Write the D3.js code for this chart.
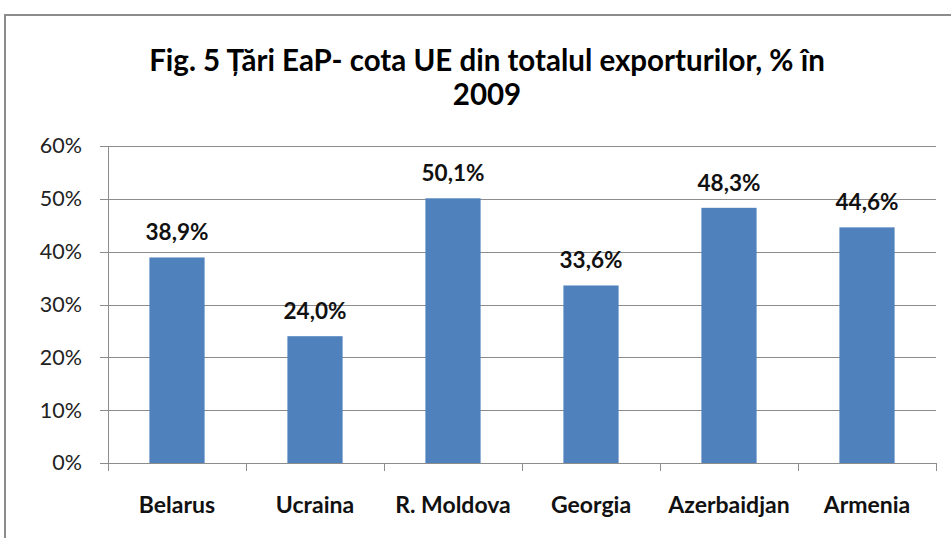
<!DOCTYPE html>
<html>
<head>
<meta charset="utf-8">
<script src="https://cdn.jsdelivr.net/npm/d3@7"></script>
<style>
  html, body { margin: 0; padding: 0; background: #fff; }
  svg { display: block; }
</style>
</head>
<body>
<svg id="chart" width="951" height="538"></svg>
<script>
const countries = ['Belarus', 'Ucraina', 'R. Moldova', 'Georgia', 'Azerbaidjan', 'Armenia'];
const euShare = [38.9, 24.0, 50.1, 33.6, 48.3, 44.6];
const yTicks = [0, 10, 20, 30, 40, 50, 60];
const titleLines = ['Fig. 5 Țări EaP- cota UE din totalul exporturilor, % în', '2009'];

const svg = d3.select('#chart');
const titleX = 487; // chart frame runs past the right edge, so title sits right of page centre
const font = 'Lato, "Open Sans", sans-serif';
const margin = { top: 146, right: 15, bottom: 75, left: 108 };
const plotW = 936 - margin.left;
const plotH = 463 - margin.top;

// outer frame (only top and left visible in the crop)
svg.append('path')
  .attr('d', `M5,538 V15 H951`)
  .attr('fill', 'none')
  .attr('stroke', '#8c8c8c')
  .attr('stroke-width', 2);

svg.append('text')
  .attr('x', titleX)
  .attr('y', 71)
  .attr('text-anchor', 'middle')
  .attr('font-family', font)
  .attr('font-weight', 'bold')
  .attr('font-size', 29.5)
  .selectAll('tspan')
  .data(titleLines)
  .enter()
  .append('tspan')
  .attr('x', titleX)
  .attr('dy', (d, i) => (i === 0 ? 0 : 34))
  .text(d => d);

const x = d3.scaleBand()
  .domain(countries)
  .range([0, plotW])
  .paddingInner(0.6)
  .paddingOuter(0.3);

const y = d3.scaleLinear().domain([0, 60]).range([plotH, 0]);

const g = svg.append('g').attr('transform', `translate(${margin.left},${margin.top})`);

// gridlines
g.append('g')
  .selectAll('line')
  .data(yTicks)
  .enter()
  .append('line')
  .attr('x1', -8)
  .attr('x2', plotW)
  .attr('y1', d => Math.round(y(d)) + 0.5)
  .attr('y2', d => Math.round(y(d)) + 0.5)
  .attr('stroke', '#8c8c8c')
  .attr('stroke-width', 1);

// y axis
const yAxis = g.append('g')
  .call(d3.axisLeft(y).tickValues(yTicks).tickSize(0).tickPadding(26).tickFormat(d => d + '%'));
yAxis.select('.domain').attr('stroke', '#8c8c8c').attr('d', `M0.5,0V${plotH + 8}`);
yAxis.selectAll('text')
  .attr('font-family', font)
  .attr('font-size', 21.5)
  .attr('fill', '#222');

// x axis ticks at category boundaries
const step = x.step();
const bounds = d3.range(countries.length + 1).map(i => i * step);
g.append('g')
  .selectAll('line')
  .data(bounds)
  .enter()
  .append('line')
  .attr('x1', d => Math.round(d) + 0.5)
  .attr('x2', d => Math.round(d) + 0.5)
  .attr('y1', plotH)
  .attr('y2', plotH + 8)
  .attr('stroke', '#8c8c8c');

// bars
g.selectAll('rect.bar')
  .data(countries)
  .enter()
  .append('rect')
  .attr('class', 'bar')
  .attr('x', d => x(d))
  .attr('width', x.bandwidth())
  .attr('y', (d, i) => y(euShare[i]))
  .attr('height', (d, i) => plotH - y(euShare[i]))
  .attr('fill', '#4f81bd');

// value labels
g.selectAll('text.val')
  .data(countries)
  .enter()
  .append('text')
  .attr('class', 'val')
  .attr('x', d => x(d) + x.bandwidth() / 2)
  .attr('y', (d, i) => y(euShare[i]) - 17)
  .attr('text-anchor', 'middle')
  .attr('font-family', font)
  .attr('font-weight', 'bold')
  .attr('font-size', 22.5)
  .attr('fill', '#111')
  .text((d, i) => euShare[i].toFixed(1).replace('.', ',') + '%');

// category labels
g.selectAll('text.cat')
  .data(countries)
  .enter()
  .append('text')
  .attr('class', 'cat')
  .attr('x', d => x(d) + x.bandwidth() / 2)
  .attr('y', plotH + 50)
  .attr('text-anchor', 'middle')
  .attr('font-family', font)
  .attr('font-weight', 'bold')
  .attr('font-size', 23)
  .attr('fill', '#111')
  .text(d => d);
</script>
</body>
</html>
